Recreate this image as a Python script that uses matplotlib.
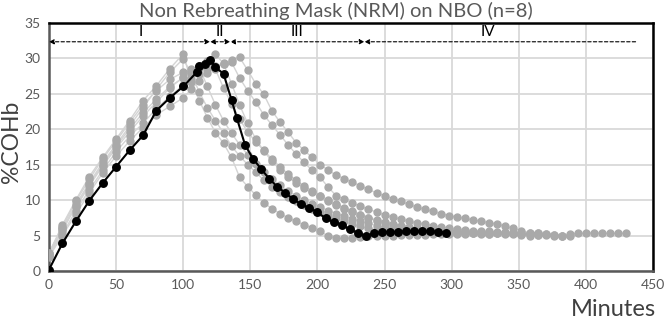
import matplotlib
matplotlib.use("Agg")
import matplotlib.pyplot as plt

plt.rcParams['font.family'] = ['Lato', 'DejaVu Sans']

# ---------------- data ----------------
rise_t = list(range(0, 101, 10))

black_t = rise_t + [110, 112, 116, 120, 124, 130, 136, 140, 146, 152, 158, 164, 170, 176, 182,
                    188, 194, 200, 206, 212, 218, 224, 230, 236, 242, 248, 254, 260, 266,
                    272, 278, 284, 290, 296]
black_v = [0.2, 3.9, 7.0, 9.9, 12.4, 14.7, 17.0, 19.1, 22.6, 24.4, 26.0,
           28.0, 28.9, 29.2, 29.8, 28.7, 27.8, 24.1, 21.5, 17.8, 15.8, 14.4, 13.0, 11.9, 11.0,
           10.1, 9.4, 8.85, 8.3, 7.4, 6.9, 6.55, 5.85, 5.4, 4.9, 5.3, 5.5, 5.5, 5.5,
           5.6, 5.6, 5.6, 5.6, 5.5, 5.4]

g1_t = rise_t + list(range(106, 359, 6))
g1_v = [2.5, 6.5, 10.0, 13.3, 16.0, 18.6, 21.2, 24.0, 26.1, 28.5, 30.6,
        26.6, 24.0, 21.6, 19.5, 18.0, 16.0, 13.2, 11.9, 10.7, 9.6,
        8.8, 8.1, 7.5, 7.0, 6.5, 6.1, 5.6, 4.9, 4.6, 4.6,
        4.7, 4.8, 4.9, 5.0, 5.0, 5.0, 5.1, 5.1, 5.1, 5.1,
        5.2, 5.2, 5.2, 5.2, 5.2, 5.3, 5.2, 5.2, 5.3, 5.2,
        5.2, 5.1, 5.0]

g2_t = rise_t + list(range(106, 329, 6))
g2_v = [2.2, 5.9, 9.4, 12.4, 15.3, 17.8, 20.4, 23.0, 25.6, 28.0, 29.9,
        27.8, 25.2, 23.0, 21.2, 19.4, 17.6, 16.2, 15.0, 13.9, 12.8,
        11.9, 11.1, 10.4, 9.8, 9.3, 8.8, 8.3, 7.8, 7.4, 7.0,
        6.6, 6.3, 6.0, 5.8, 5.7, 5.6, 5.5, 5.5, 5.4, 5.4,
        5.4, 5.3, 5.3, 5.3, 5.4, 5.3, 5.3, 5.2]

g3_t = rise_t + list(range(106, 383, 6))
g3_v = [2.4, 6.0, 9.0, 12.0, 14.8, 17.3, 19.6, 21.8, 23.8, 25.8, 27.3,
        28.2, 28.9, 29.6, 30.6, 29.2, 26.4, 23.4, 20.8, 18.6, 16.9,
        15.5, 14.3, 13.3, 12.4, 11.7, 11.1, 10.6, 10.0, 9.4, 8.9,
        8.4, 7.9, 7.5, 7.1, 6.8, 6.5, 6.3, 6.1, 5.9, 5.8,
        5.7, 5.6, 5.6, 5.5, 5.5, 5.5, 5.4, 5.4, 5.4, 5.3,
        5.3, 5.2, 5.2, 5.1, 5.1, 5.0, 5.0]

g4_t = rise_t + list(range(106, 431, 6))
g4_v = [2.0, 5.0, 8.0, 11.0, 13.8, 16.2, 18.3, 20.2, 22.0, 23.2, 24.4,
        25.6, 26.8, 27.9, 28.7, 29.3, 29.7, 30.1, 28.3, 26.4, 24.9,
        22.6, 21.0, 19.6, 18.1, 17.0, 16.0, 15.0, 14.2, 13.5, 13.0,
        12.5, 12.0, 11.5, 11.0, 10.6, 10.2, 9.8, 9.4, 9.0, 8.7,
        8.4, 8.1, 7.8, 7.6, 7.4, 7.2, 7.0, 6.8, 6.6, 6.3,
        6.0, 5.7, 5.4, 5.3, 5.2, 5.1, 5.0, 5.2, 5.3, 5.3,
        5.4, 5.3, 5.3, 5.3, 5.3]

g5_t = rise_t + list(range(106, 389, 6))
g5_v = [2.1, 5.2, 8.5, 11.4, 14.2, 16.8, 19.0, 20.8, 22.9, 24.6, 26.2,
        27.0, 27.8, 28.4, 28.9, 29.2, 29.4, 27.2, 25.4, 23.8, 22.0,
        20.6, 19.2, 17.8, 16.5, 15.3, 14.2, 13.2, 11.8, 10.6, 10.1,
        9.6, 9.1, 8.7, 8.3, 7.9, 7.6, 7.3, 7.0, 6.8, 6.6,
        6.4, 6.2, 6.0, 5.9, 5.8, 5.7, 5.6, 5.6, 5.5, 5.5,
        5.4, 5.4, 5.3, 5.3, 5.2, 5.1, 5.0, 5.0]

g6_t = rise_t + list(range(106, 365, 6))
g6_v = [2.3, 5.7, 9.1, 12.2, 15.0, 17.6, 20.0, 22.3, 24.2, 26.0, 27.2,
        28.0, 28.7, 29.3, 28.4, 25.8, 23.6, 21.4, 19.6, 18.2, 17.0,
        15.8, 14.7, 13.7, 12.8, 12.0, 11.3, 10.6, 9.8, 9.3, 8.8,
        8.3, 7.9, 7.5, 7.2, 6.9, 6.6, 6.4, 6.2, 6.0, 5.9,
        5.8, 5.7, 5.6, 5.6, 5.5, 5.5, 5.4, 5.4, 5.4, 5.3,
        5.3, 5.2, 5.2, 5.1]

g7_t = rise_t + list(range(106, 317, 6))
g7_v = [2.6, 6.2, 9.8, 12.9, 15.8, 18.3, 20.9, 23.4, 25.4, 27.0, 28.0,
        28.4, 28.6, 26.0, 23.4, 21.2, 19.4, 17.8, 16.4, 15.1, 14.0,
        13.0, 12.1, 11.3, 10.6, 10.0, 9.5, 9.0, 8.5, 8.1, 7.7,
        7.3, 7.0, 6.7, 6.4, 6.2, 6.0, 5.9, 5.8, 5.7, 5.6,
        5.6, 5.5, 5.5, 5.4, 5.4, 5.3]

gray_series = [(g1_t, g1_v), (g2_t, g2_v), (g3_t, g3_v), (g4_t, g4_v),
               (g5_t, g5_v), (g6_t, g6_v), (g7_t, g7_v)]

phase_bounds = [0, 120, 135, 235, 437]
phase_labels = ['I', 'II', 'III', 'IV']
phase_label_x = [68, 127, 185, 327]
phase_y = 32.3

x_ticks = list(range(0, 451, 50))
y_ticks = list(range(0, 36, 5))

title = 'Non Rebreathing Mask (NRM) on NBO (n=8)'

# ---------------- plot ----------------
fig = plt.figure(figsize=(6.65, 3.23), dpi=100)
ax = fig.add_axes([0.0737, 0.161, 0.9083, 0.769])

for t, v in gray_series:
    ax.plot(t, v, color='#d4d4d4', lw=1.0, zorder=2)
for t, v in gray_series:
    ax.plot(t, v, ls='none', marker='o', ms=5.0, color='#a9a9a9', mec='#a9a9a9', zorder=3)

ax.plot(black_t, black_v, color='black', lw=1.5, marker='o', ms=5.4, zorder=5)

# phase arrows
for i in range(len(phase_labels)):
    a, b = phase_bounds[i], phase_bounds[i + 1]
    style = '<|-|>' if i < len(phase_labels) - 1 else '-|>'
    ax.annotate('', xy=(a, phase_y), xytext=(b, phase_y),
                arrowprops=dict(arrowstyle=style, ls=(0, (3, 2)), lw=0.8, color='black',
                                shrinkA=0, shrinkB=0, mutation_scale=7), zorder=6)
    ax.text(phase_label_x[i], phase_y + 0.4, phase_labels[i], ha='center', va='bottom',
            fontsize=11, color='black', zorder=6)

ax.set_xlim(0, 450)
ax.set_ylim(0, 35)
ax.set_xticks(x_ticks)
ax.set_yticks(y_ticks)
ax.grid(True, color='#d9d9d9', lw=1.3, zorder=0)
ax.set_axisbelow(True)
ax.tick_params(length=0, labelsize=10, colors='#595959', pad=6)

for s in ['left', 'bottom']:
    ax.spines[s].set_color('#595959')
    ax.spines[s].set_linewidth(1.8)
for s in ['top', 'right']:
    ax.spines[s].set_color('black')
    ax.spines[s].set_linewidth(1.8)

fig.text(0.505, 0.965, title, ha='center', va='center', fontsize=14.5, color='#595959')
fig.text(0.017, 0.56, '%COHb', rotation=90, ha='center', va='center', fontsize=16.5, color='#404040')
fig.text(0.922, 0.042, 'Minutes', ha='center', va='center', fontsize=17, color='#404040')

fig.savefig('out.png', dpi=100)
